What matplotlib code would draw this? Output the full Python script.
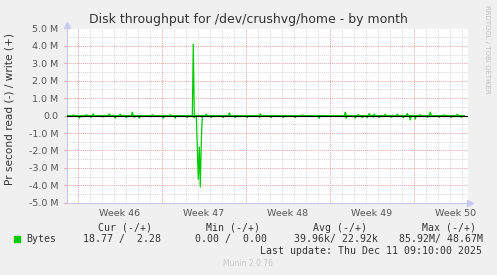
import numpy as np
import matplotlib.pyplot as plt

W, H = 497, 275

# --- data (x in days from the left edge of the graph, values in MB/s) ---
write_days = [0.55, 1.60, 2.22, 3.55, 4.50, 5.50, 7.10, 8.60, 10.55, 11.67,
              13.55, 16.17, 19.60, 23.19, 24.30, 25.19, 25.63, 26.53, 27.58,
              28.42, 29.50, 30.28, 31.50, 32.58]
write_vals = [0.04, 0.05, 0.10, 0.10, 0.08, 0.20, 0.05, 0.05, 4.10, 0.08,
              0.15, 0.10, 0.04, 0.20, 0.06, 0.12, 0.08, 0.08, 0.08,
              0.12, 0.05, 0.20, 0.05, 0.08]

read_days = [1.05, 1.22, 2.08, 3.05, 4.03, 5.00, 5.61, 6.05, 7.05, 8.05, 9.03,
             10.05, 10.61, 10.92, 11.00, 11.08, 11.17, 11.25, 12.08, 13.05,
             14.03, 15.05, 16.05, 17.05, 18.05, 19.03, 20.05, 21.03, 22.05,
             23.33, 24.03, 24.63, 25.08, 25.55, 26.05, 27.08, 28.05, 28.61,
             29.03, 30.05, 31.03, 32.03, 32.92]
read_vals = [0.15, 0.08, 0.10, 0.08, 0.15, 0.12, 0.10, 0.15, 0.06, 0.15, 0.15,
             0.12, 0.12, 1.80, 3.66, 1.80, 4.10, 1.50, 0.12, 0.12,
             0.12, 0.12, 0.10, 0.12, 0.12, 0.12, 0.06, 0.15, 0.06,
             0.15, 0.15, 0.12, 0.12, 0.08, 0.12, 0.10, 0.12, 0.25,
             0.20, 0.10, 0.10, 0.12, 0.10]

week_starts = [0.92, 7.92, 14.92, 21.92, 28.92]
week_labels = ['Week 46', 'Week 47', 'Week 48', 'Week 49', 'Week 50']
y_ticks = [5, 4, 3, 2, 1, 0, -1, -2, -3, -4, -5]
y_labels = ['5.0 M', '4.0 M', '3.0 M', '2.0 M', '1.0 M', '0.0',
            '-1.0 M', '-2.0 M', '-3.0 M', '-4.0 M', '-5.0 M']

legend_head = ['Cur (-/+)', 'Min (-/+)', 'Avg (-/+)', 'Max (-/+)']
legend_vals = ['18.77 /  2.28', '0.00 /  0.00', '39.96k/ 22.92k', '85.92M/ 48.67M']

# 2 hour samples, zero baseline
t = 0.05 + np.arange(398) / 12.0
write = np.zeros(len(t))
read = np.zeros(len(t))
for d, v in zip(write_days, write_vals):
    write[int(round((d - 0.05) * 12))] = v
for d, v in zip(read_days, read_vals):
    read[int(round((d - 0.05) * 12))] = v

GREEN = '#00cc00'
MAJ = '#e8a0a0'
MIN = '#d6d6d6'
AXC = '#c8c8f0'
TXT = '#333333'

fig = plt.figure(figsize=(W / 100, H / 100), dpi=100, facecolor='#f0f0f0')
L, R, T, B = 66.7, 468.0, 28.5, 202.7
ax = fig.add_axes([L / W, 1 - B / H, (R - L) / W, (B - T) / H])
ax.set_facecolor('white')
xmax = (R - L) / 12.0
ax.set_xlim(0, xmax)
ax.set_ylim(-5, 5)

# grid
dot = (0, (1, 1))
for d in np.arange(week_starts[0] - 7, xmax, 1.0):
    if d <= 0:
        continue
    major = any(abs(d - w) < 1e-6 for w in week_starts)
    ax.axvline(d, color=MAJ if major else MIN, lw=0.7, ls=dot, zorder=1)
for y in np.arange(-4.5, 5.01, 0.5):
    major = abs(y - round(y)) < 1e-6
    ax.axhline(y, color=MAJ if major else MIN, lw=0.7, ls=dot, zorder=1)

ax.plot(t, write, color=GREEN, lw=0.9, zorder=3)
ax.plot(t, -read, color=GREEN, lw=0.9, zorder=3)
ax.axhline(0, color='black', lw=0.8, zorder=4)

for s in ['top', 'right']:
    ax.spines[s].set_visible(False)
ax.spines['left'].set_color(AXC)
ax.spines['bottom'].set_color(AXC)
ax.spines['left'].set_linewidth(0.8)
ax.spines['bottom'].set_linewidth(0.8)
ax.plot([0], [1.02], marker='^', ms=4, color=AXC, transform=ax.transAxes, clip_on=False)
ax.plot([1.005], [0], marker='>', ms=4, color=AXC, transform=ax.transAxes, clip_on=False)

ax.set_yticks(y_ticks)
ax.set_yticklabels(y_labels, fontsize=6.8, color='#555555')
ax.tick_params(axis='y', length=2, color=MAJ, pad=4)
ax.set_xticks([w + 3.5 for w in week_starts])
ax.set_xticklabels(week_labels, fontsize=6.8, color='#555555')
ax.tick_params(axis='x', length=0, pad=4.5)

fig.text(248.3 / W, 1 - 19 / H, 'Disk throughput for /dev/crushvg/home - by month',
         ha='center', va='center', fontsize=9.0, color=TXT)
fig.text(10 / W, 1 - 109 / H, 'Pr second read (-) / write (+)', rotation=90,
         ha='center', va='center', fontsize=7.6, color=TXT)
fig.text(487 / W, 1 - 5 / H, 'RRDTOOL / TOBI OETIKER', rotation=270,
         ha='center', va='top', fontsize=5, color='#c0c0c0')

mono = 'DejaVu Sans Mono'
fs = 7.1
fig.patches.append(plt.Rectangle((14 / W, 1 - 242 / H), 6 / W, 6 / H,
                                 transform=fig.transFigure, color=GREEN))
fig.text(26.3 / W, 1 - 239.3 / H, 'Bytes', family=mono, fontsize=fs,
         ha='left', va='center', color=TXT)
head_right = [151.7, 260.3, 367.3, 476.0]
val_right = [161.0, 266.7, 377.7, 482.7]
for hx, h in zip(head_right, legend_head):
    fig.text(hx / W, 1 - 227.7 / H, h, family=mono, fontsize=fs,
             ha='right', va='center', color=TXT)
for vx, v in zip(val_right, legend_vals):
    fig.text(vx / W, 1 - 239.3 / H, v, family=mono, fontsize=fs,
             ha='right', va='center', color=TXT)
fig.text(482.3 / W, 1 - 251 / H, 'Last update: Thu Dec 11 09:10:00 2025',
         family=mono, fontsize=fs, ha='right', va='center', color=TXT)
fig.text(248 / W, 1 - 264 / H, 'Munin 2.0.76', ha='center', va='center',
         fontsize=5.5, color='#c8c8c8')

fig.savefig('out.png', dpi=100, facecolor=fig.get_facecolor())
